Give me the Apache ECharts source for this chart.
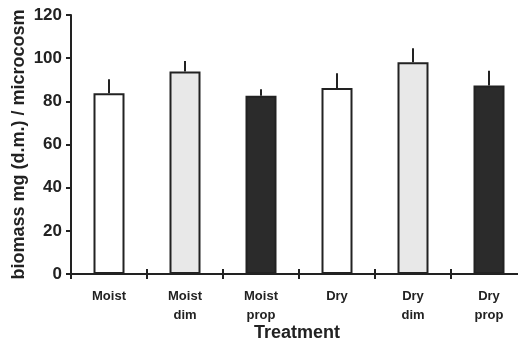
<!DOCTYPE html>
<html><head><meta charset="utf-8">
<script src="https://cdn.jsdelivr.net/npm/echarts@6/dist/echarts.min.js"></script>
<style>html,body{margin:0;padding:0;background:#fff}#c{width:518px;height:345px}</style>
</head><body><div id="c"></div>
<script>
var categories = ['Moist', 'Moist\ndim', 'Moist\nprop', 'Dry', 'Dry\ndim', 'Dry\nprop'];
var means = [83.7, 93.8, 82.6, 86.2, 98.1, 87.3];
var errTops = [90.2, 98.7, 85.6, 93.0, 104.6, 94.2];
var yTicks = [0, 20, 40, 60, 80, 100, 120];
var fills = ['#ffffff', '#e8e8e8', '#2b2b2b', '#ffffff', '#e8e8e8', '#2b2b2b'];

var chart = echarts.init(document.getElementById('c'), null, {renderer: 'canvas'});
var font = 'Liberation Sans, Arial, sans-serif';
chart.setOption({
  animation: false,
  backgroundColor: '#ffffff',
  grid: {left: 71, top: 15, width: 456, height: 259, containLabel: false, outerBoundsMode: 'none'},
  xAxis: [{
    type: 'category', data: categories, position: 'bottom',
    axisLine: {lineStyle: {color: '#222', width: 2}},
    axisTick: {show: true, length: 5, lineStyle: {color: '#222', width: 2}},
    axisLabel: {color: '#222', fontFamily: font, fontWeight: 'bold', fontSize: 13, lineHeight: 19, margin: 13}
  }, {
    type: 'category', data: categories, position: 'top', offset: -259,
    axisLine: {show: true, onZero: false, lineStyle: {color: 'rgba(0,0,0,0)', width: 1}},
    axisTick: {show: true, inside: false, length: 5, lineStyle: {color: '#222', width: 2}},
    axisLabel: {show: false}
  }],
  yAxis: {
    type: 'value', min: yTicks[0], max: yTicks[yTicks.length - 1], interval: 20,
    splitLine: {show: false},
    axisLine: {show: true, lineStyle: {color: '#222', width: 2}},
    axisTick: {show: true, length: 5, lineStyle: {color: '#222', width: 2}},
    axisLabel: {color: '#222', fontFamily: font, fontWeight: 'bold', fontSize: 17, margin: 9},
    name: 'biomass mg (d.m.) / microcosm', nameLocation: 'middle', nameGap: 43, nameMoveOverlap: false,
    nameTextStyle: {color: '#222', fontFamily: font, fontWeight: 'bold', fontSize: 18}
  },
  graphic: [{
    type: 'text', x: 297, y: 324,
    style: {text: 'Treatment', fill: '#222', font: 'bold 18px ' + font, textAlign: 'center'}
  }],
  series: [{
    type: 'bar', barWidth: 31,
    data: means.map(function (v, i) {
      return {value: v, itemStyle: {color: fills[i], borderColor: '#222', borderWidth: 2}};
    })
  }, {
    type: 'custom',
    data: means.map(function (v, i) { return [i, v, errTops[i]]; }),
    renderItem: function (params, api) {
      var p0 = api.coord([api.value(0), api.value(1)]);
      var p1 = api.coord([api.value(0), api.value(2)]);
      return {type: 'line', shape: {x1: p0[0], y1: p0[1], x2: p1[0], y2: p1[1]},
        style: {stroke: '#222', lineWidth: 2}};
    },
    z: 3
  }]
});
</script></body></html>
